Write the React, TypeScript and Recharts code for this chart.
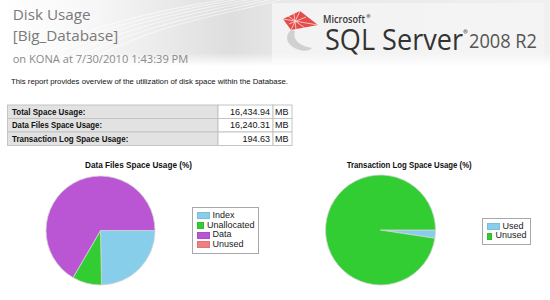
import { Legend, Pie, PieChart } from 'recharts';

// Data Files pie (%)
const dataNames = ['Index', 'Unallocated', 'Data', 'Unused'];
const dataValues = [24.7, 8.7, 66.6, 0];
const dataColors = ['#87ceeb', '#32cd32', '#ba55d3', '#f08080'];

// Transaction Log pie (%)
const logNames = ['Used', 'Unused'];
const logValues = [2.4, 97.6];
const logColors = ['#87ceeb', '#32cd32'];

// summary table
const summaryLabels = ['Total Space Usage:', 'Data Files Space Usage:', 'Transaction Log Space Usage:'];
const summaryValues = ['16,434.94', '16,240.31', '194.63'];
const summaryUnit = 'MB';

const dataRows = dataNames
  .map((name, i) => ({ name, value: dataValues[i], fill: dataColors[i] }))
  .filter((r) => r.value > 0);
const logRows = logNames.map((name, i) => ({ name, value: logValues[i], fill: logColors[i] }));

const uiFont = '"Liberation Sans", Arial, sans-serif';
const headFont = '"Open Sans", "Noto Sans", sans-serif';

function LegendBox({ names, colors, width }: { names: string[]; colors: string[]; width: number }) {
  return (
    <div
      style={{
        width,
        boxSizing: 'border-box',
        border: '1px solid #a8a8a8',
        background: '#fff',
        padding: '3px 3px 3px 4px',
        fontFamily: uiFont,
        fontSize: 9,
        color: '#222',
      }}
    >
      {names.map((name, i) => (
        <div key={name} style={{ display: 'flex', alignItems: 'center', height: 9.7, lineHeight: '9.7px' }}>
          <span
            style={{
              display: 'inline-block',
              width: 13,
              height: 7,
              background: colors[i],
              marginRight: 3,
              boxSizing: 'border-box',
              border: '1px solid rgba(0,0,0,0.08)',
            }}
          />
          {name}
        </div>
      ))}
    </div>
  );
}

// tiny trademark mark, drawn as a glyph-like graphic
function RegMark({ x, y, r }: { x: number; y: number; r: number }) {
  return (
    <g stroke="#444" fill="none" strokeWidth={0.5}>
      <circle cx={x} cy={y} r={r} />
      <path d={`M ${x - r * 0.35} ${y + r * 0.5} V ${y - r * 0.5} H ${x + r * 0.1} Q ${x + r * 0.45} ${y - r * 0.5} ${x + r * 0.45} ${y - r * 0.15} Q ${x + r * 0.45} ${y + r * 0.1} ${x} ${y + r * 0.05} L ${x + r * 0.45} ${y + r * 0.5}`} />
    </g>
  );
}

function Header() {
  const rowH = 13.5;
  const rowTop = [105, 105 + rowH, 105 + rowH * 2];
  return (
    <svg width={550} height={300} style={{ position: 'absolute', left: 0, top: 0 }}>
      <defs>
        <linearGradient id="hdr" x1="0" y1="0" x2="1" y2="0">
          <stop offset="0" stopColor="#ffffff" />
          <stop offset="0.18" stopColor="#f6f6f6" />
          <stop offset="0.42" stopColor="#dedede" />
          <stop offset="0.52" stopColor="#e8e8e8" />
          <stop offset="1" stopColor="#f0f0f0" />
        </linearGradient>
        <linearGradient id="fade" x1="0" y1="0" x2="0" y2="1">
          <stop offset="0.8" stopColor="#fff" stopOpacity="0" />
          <stop offset="1" stopColor="#fff" stopOpacity="1" />
        </linearGradient>
      </defs>
      <rect x={0} y={0} width={550} height={66} fill="url(#hdr)" />
      {[0, 1, 2, 3, 4, 5].map((k) => (
        <path
          key={k}
          d={`M ${-20 + k * 18} 70 C ${60 + k * 20} ${40 - k * 4}, ${130 + k * 15} ${10 + k * 2}, ${260 + k * 8} -5`}
          stroke="#fff"
          strokeOpacity={0.55}
          strokeWidth={1.2}
          fill="none"
        />
      ))}
      <rect x={272} y={3} width={272} height={60} fill="#f4f4f4" opacity={0.85} />
      <rect x={0} y={0} width={550} height={66} fill="url(#fade)" />

      {/* logo mark */}
      <g>
        <path d="M 283 19 L 300 11 L 318 25 L 291 30 Z" fill="#e23a3a" opacity={0.9} />
        <path
          d="M 283 19 L 318 25 M 300 11 L 291 30 M 288 16 L 305 28 M 294 14 L 296 29 M 306 17 L 289 24"
          stroke="#fbdada"
          strokeWidth={0.8}
          fill="none"
        />
        <path d="M 291 30 C 284 36, 286 46, 300 50 C 306 52, 310 50, 312 48 C 300 46, 292 40, 295 31 Z" fill="#d0d0d0" />
      </g>
      <text x={323} y={23} fontFamily={headFont} fontSize={10} fontWeight={600} fill="#3a3a3a" textLength={42} lengthAdjust="spacingAndGlyphs">
        Microsoft
      </text>
      <RegMark x={368.5} y={16} r={1.6} />
      <text x={0} y={0} transform="translate(325 50) scale(1 1.1)" fontFamily={headFont} fontSize={27} fill="#333" textLength={138} lengthAdjust="spacingAndGlyphs">
        SQL Server
      </text>
      <RegMark x={465.5} y={31.5} r={1.8} />
      <text x={469} y={48} fontFamily={headFont} fontSize={20} fill="#555" textLength={68} lengthAdjust="spacingAndGlyphs">
        2008 R2
      </text>

      <text x={12.7} y={19.5} fontFamily={headFont} fontSize={15} fill="#7a7a7a" textLength={78} lengthAdjust="spacingAndGlyphs">
        Disk Usage
      </text>
      <text x={12.7} y={40.5} fontFamily={headFont} fontSize={15} fill="#7a7a7a" textLength={105.6} lengthAdjust="spacingAndGlyphs">
        [Big_Database]
      </text>
      <text x={12.7} y={63} fontFamily={headFont} fontSize={10.5} fill="#8a8a8a" textLength={175.6} lengthAdjust="spacingAndGlyphs">
        on KONA at 7/30/2010 1:43:39 PM
      </text>

      <text x={11} y={84} fontFamily={uiFont} fontSize={8} fill="#111" textLength={277} lengthAdjust="spacingAndGlyphs">
        This report provides overview of the utilization of disk space within the Database.
      </text>

      {summaryLabels.map((label, i) => (
        <g key={label}>
          <rect x={7.5} y={rowTop[i]} width={210.5} height={rowH} fill="#e2e2e2" stroke="#c4c4c4" strokeWidth={1} />
          <rect x={218} y={rowTop[i]} width={55} height={rowH} fill="#fff" stroke="#c4c4c4" strokeWidth={1} />
          <rect x={273} y={rowTop[i]} width={19} height={rowH} fill="#fff" stroke="#c4c4c4" strokeWidth={1} />
          <text x={12} y={rowTop[i] + 9.8} fontFamily={uiFont} fontSize={9} fontWeight="bold" fill="#111"
            textLength={[73.3, 90, 116.3][i]} lengthAdjust="spacingAndGlyphs">
            {label}
          </text>
          <text x={270} y={rowTop[i] + 9.8} fontFamily={uiFont} fontSize={9} fill="#111" textAnchor="end">
            {summaryValues[i]}
          </text>
          <text x={275} y={rowTop[i] + 9.8} fontFamily={uiFont} fontSize={9} fill="#111">
            {summaryUnit}
          </text>
        </g>
      ))}

      <text x={85} y={168} fontFamily={uiFont} fontSize={8.5} fontWeight="bold" fill="#111" textLength={107} lengthAdjust="spacingAndGlyphs">
        Data Files Space Usage (%)
      </text>
      <text x={346.7} y={168} fontFamily={uiFont} fontSize={8.5} fontWeight="bold" fill="#111" textLength={125} lengthAdjust="spacingAndGlyphs">
        Transaction Log Space Usage (%)
      </text>
    </svg>
  );
}

export default function App() {
  return (
    <div style={{ position: 'relative', width: 550, height: 300, overflow: 'hidden', background: '#fff' }}>
      <style>{'body{margin:0}'}</style>
      <Header />
      <div style={{ position: 'absolute', left: 0, top: 150 }}>
        <PieChart width={275} height={150} margin={{ top: 0, right: 0, bottom: 0, left: 0 }}>
          <Pie
            data={dataRows}
            dataKey="value"
            nameKey="name"
            cx={100.5}
            cy={80.5}
            outerRadius={54.5}
            startAngle={0}
            endAngle={-360}
            stroke="#d4d4d4"
            strokeWidth={0.8}
            isAnimationActive={false}
          />
          <Legend
            layout="vertical"
            align="right"
            verticalAlign="top"
            wrapperStyle={{ left: 191.5, top: 57, width: 67, right: 'auto' }}
            content={() => <LegendBox names={dataNames} colors={dataColors} width={67} />}
          />
        </PieChart>
      </div>
      <div style={{ position: 'absolute', left: 275, top: 150 }}>
        <PieChart width={275} height={150} margin={{ top: 0, right: 0, bottom: 0, left: 0 }}>
          <Pie
            data={logRows}
            dataKey="value"
            nameKey="name"
            cx={105.5}
            cy={80}
            outerRadius={55}
            startAngle={0}
            endAngle={-360}
            stroke="#d4d4d4"
            strokeWidth={0.8}
            isAnimationActive={false}
          />
          <Legend
            layout="vertical"
            align="right"
            verticalAlign="top"
            wrapperStyle={{ left: 206.5, top: 67.5, width: 49, right: 'auto' }}
            content={() => <LegendBox names={logNames} colors={logColors} width={49} />}
          />
        </PieChart>
      </div>
    </div>
  );
}
